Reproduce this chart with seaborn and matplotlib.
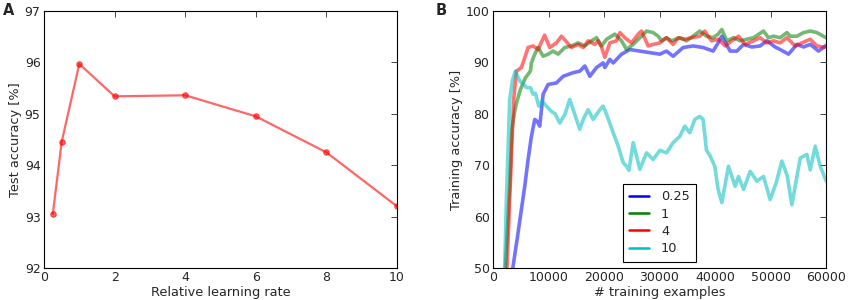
import numpy as np
import pandas as pd
import matplotlib
matplotlib.use('Agg')
import matplotlib.pyplot as plt
import seaborn as sns

# 面板 A：学习率与测试准确率
lr_values = [0.25, 0.5, 1, 2, 4, 6, 8, 10]
test_acc = [93.05, 94.45, 95.97, 95.34, 95.36, 94.95, 94.25, 93.2]

# 面板 B：训练曲线
x_025 = [3000, 3610, 4510, 5120, 5720, 6320, 6920, 7520, 8000, 8420, 8730, 9030, 9930, 11430,
         12640, 14440, 15640, 16550, 17450, 18650, 19850, 20160, 21050, 21660, 23160, 24660,
         26460, 28260, 30060, 31260, 32460, 34260, 36060, 37860, 39660, 40560, 41230, 42730,
         43940, 45140, 46640, 48140, 49340, 50840, 51740, 53250, 54750, 55960, 57160, 58660, 60000]
y_025 = [46, 50.3, 56.8, 61.4, 65.9, 71.1, 75.6, 78.9, 78.5, 77.6, 80.8, 83.8, 85.7, 86.0,
         87.3, 88.0, 88.3, 89.3, 87.3, 89.0, 89.9, 89.0, 90.6, 89.9, 91.6, 92.5,
         92.2, 91.9, 91.6, 92.2, 91.2, 92.9, 93.2, 92.9, 92.2, 93.8, 95.1, 92.2,
         92.2, 93.5, 93.0, 93.2, 94.2, 93.0, 92.5, 91.6, 93.5, 93.0, 93.5, 92.2, 93.3]

x_1 = [2000, 2230, 3000, 3400, 3910, 4210, 4930, 5840, 6740, 6920, 7520, 8120, 9030, 9930,
       10830, 11730, 12940, 14140, 15340, 16550, 17750, 18650, 19550, 20460, 21960, 23160,
       24060, 25260, 26460, 27660, 28860, 29760, 30360, 31260, 32160, 33660, 34860, 36060,
       37260, 38460, 39660, 40560, 41230, 42130, 43330, 44540, 45740, 46940, 48740, 49640,
       50540, 51740, 52950, 53550, 54750, 55960, 57160, 58360, 60000]
y_1 = [46, 50, 66, 77, 80.5, 82.0, 84.7, 87.0, 88.3, 89.9, 91.6, 92.9, 91.2, 91.6,
       92.2, 91.6, 92.9, 93.2, 93.8, 93.2, 94.2, 94.8, 93.2, 94.5, 95.5, 94.2,
       92.5, 93.5, 94.8, 96.1, 95.8, 95.1, 94.2, 94.8, 94.2, 94.8, 94.2, 95.1,
       96.1, 95.1, 94.8, 95.5, 96.4, 94.2, 94.8, 94.2, 94.5, 94.8, 96.1, 94.8,
       95.1, 94.8, 95.8, 95.1, 95.1, 95.8, 96.1, 95.8, 94.8]

x_4 = [2000, 2530, 3010, 3490, 3730, 4210, 5120, 5720, 6320, 7220, 8120, 9300, 10230, 11430,
       12340, 13240, 14140, 15340, 16250, 17140, 18350, 18950, 19550, 20160, 21060, 22260,
       22860, 23760, 24960, 26160, 26760, 27960, 28860, 30060, 31260, 32460, 33360, 34560,
       35760, 37260, 38160, 39360, 40630, 41830, 43030, 44240, 45440, 46940, 48140, 49340,
       50540, 51740, 52950, 54450, 55660, 57160, 58360, 60000]
y_4 = [44, 50.3, 63.3, 76.3, 82.8, 88.3, 89.0, 90.9, 92.9, 93.2, 92.5, 95.3, 92.9, 93.8,
       95.1, 94.0, 92.9, 93.5, 92.9, 94.2, 93.5, 94.2, 93.0, 91.0, 93.8, 94.2,
       95.8, 94.8, 93.8, 95.5, 96.1, 93.2, 93.5, 93.8, 94.8, 93.5, 94.8, 94.5,
       94.8, 95.1, 96.1, 94.2, 94.5, 93.2, 94.2, 95.1, 93.5, 94.2, 94.8, 93.8,
       94.2, 93.8, 94.8, 93.2, 93.8, 94.5, 93.2, 92.9]

x_10 = [1900, 2110, 2410, 3010, 3500, 4030, 4810, 5540, 6020, 6740, 7220, 7640, 8240, 8850,
        9630, 10500, 11200, 12030, 13000, 13830, 14700, 15630, 16300, 17140, 18040, 19260,
        19840, 20460, 21660, 22560, 23460, 24060, 24500, 25260, 26460, 27660, 28860, 30060,
        31260, 32460, 33660, 34560, 35460, 36360, 37260, 37860, 38460, 39120, 39960, 40560,
        41230, 42430, 43630, 44230, 45140, 46340, 47540, 48740, 49940, 51000, 52050, 53000,
        53850, 55360, 56560, 57160, 58060, 58960, 60000]
y_10 = [45, 50.3, 63.3, 82.8, 86.5, 88.3, 86.4, 85.7, 85.1, 85.1, 83.8, 84.0, 81.5, 82.5,
        81.5, 80.5, 80.0, 78.2, 80.0, 82.8, 80.0, 77.0, 79.0, 80.8, 78.9, 80.8,
        81.5, 79.9, 76.3, 73.7, 70.5, 69.8, 69.0, 74.4, 69.2, 72.4, 71.1, 72.9,
        72.4, 74.4, 75.6, 77.6, 76.3, 78.9, 79.5, 78.9, 72.9, 71.8, 69.8, 65.3,
        62.7, 69.8, 65.9, 67.8, 65.3, 68.8, 66.9, 67.8, 63.3, 66.5, 70.8, 68.0,
        62.3, 71.4, 72.1, 69.1, 73.7, 69.8, 67.0]

series = [('0.25', x_025, y_025, 'blue'),
          ('1', x_1, y_1, 'green'),
          ('4', x_4, y_4, 'red'),
          ('10', x_10, y_10, 'c')]

sns.set_style('white')
plt.rcParams['font.family'] = ['DejaVu Sans']
plt.rcParams['font.size'] = 9
plt.rcParams['xtick.direction'] = 'in'
plt.rcParams['ytick.direction'] = 'in'
plt.rcParams['xtick.top'] = True
plt.rcParams['ytick.right'] = True

fig = plt.figure(figsize=(8.48, 3.0), dpi=100)
ax1 = fig.add_axes([44 / 848, 32 / 300, 353 / 848, 257 / 300])
ax2 = fig.add_axes([493 / 848, 32 / 300, 333 / 848, 257 / 300])

# 面板 A
df_a = pd.DataFrame({'lr': lr_values, 'acc': test_acc})
sns.lineplot(data=df_a, x='lr', y='acc', ax=ax1, color='red', alpha=0.6, lw=1.6,
             marker='o', markersize=4, markeredgecolor='red')
ax1.set_xlim(0, 10)
ax1.set_ylim(92, 97)
ax1.set_xticks([0, 2, 4, 6, 8, 10])
ax1.set_yticks([92, 93, 94, 95, 96, 97])
ax1.set_xlabel('Relative learning rate', fontsize=9.3, labelpad=1)
ax1.set_ylabel('Test accuracy [%]', fontsize=9.3, labelpad=2)

# 面板 B
for name, xs, ys, col in series:
    sns.lineplot(x=xs, y=ys, ax=ax2, color=col, alpha=0.55, lw=2.6, label=name)
ax2.set_xlim(0, 60000)
ax2.set_ylim(50, 100)
ax2.set_xticks(range(0, 60001, 10000))
ax2.set_yticks(range(50, 101, 10))
ax2.set_xlabel('# training examples', fontsize=9.3, labelpad=1)
ax2.set_ylabel('Training accuracy [%]', fontsize=9.3, labelpad=2)
leg = ax2.legend(loc='lower left', bbox_to_anchor=(0.39, 0.025), borderaxespad=0,
                 fancybox=False, framealpha=1, edgecolor='black', fontsize=9.3,
                 handlelength=1.55, borderpad=0.5, labelspacing=0.33, handletextpad=0.9)
leg.get_frame().set_linewidth(0.8)
for line in leg.get_lines():
    line.set_alpha(1)
    line.set_linewidth(1.8)

for ax in (ax1, ax2):
    for sp in ax.spines.values():
        sp.set_color('black')
        sp.set_linewidth(0.8)
    ax.tick_params(length=4, width=0.6, pad=2.5, labelsize=9)

fig.text(3 / 848, 1 - 15 / 300, 'A', fontsize=10.5, fontweight='bold')
fig.text(436 / 848, 1 - 15 / 300, 'B', fontsize=10.5, fontweight='bold')

fig.savefig('out.png', dpi=100)
